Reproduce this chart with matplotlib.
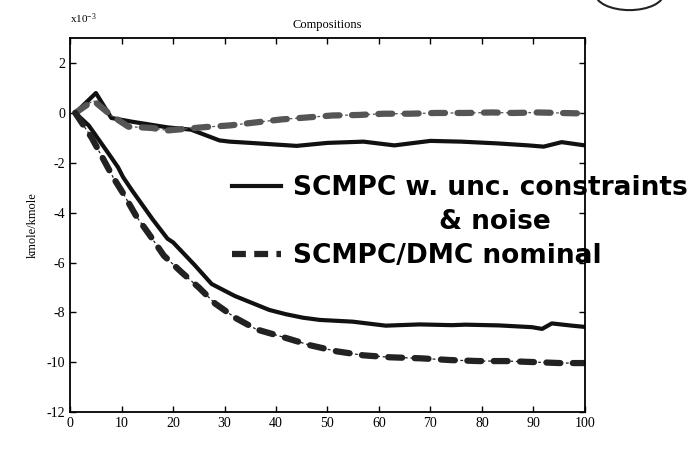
import numpy as np
import matplotlib.pyplot as plt
from matplotlib.lines import Line2D
from matplotlib.patches import Ellipse

t_top_noise = [1, 5, 8, 12, 19, 23.5, 29, 31, 35, 44, 50, 57, 63, 70, 76, 83, 89, 92, 95.5, 100]
y_top_noise = [0, 0.8, -0.2, -0.35, -0.58, -0.67, -1.1, -1.15, -1.2, -1.32, -1.2, -1.15,
               -1.3, -1.12, -1.15, -1.22, -1.3, -1.35, -1.17, -1.3]

t_top_nom = [1, 4.5, 8, 11.3, 15.8, 19, 26, 31, 36, 41, 46, 51, 56, 61, 66, 71, 77, 82, 86, 91, 95, 100]
y_top_nom = [0, 0.5, -0.1, -0.55, -0.6, -0.7, -0.57, -0.5, -0.38, -0.26, -0.18, -0.1,
             -0.08, -0.03, -0.03, 0.0, 0.0, 0.02, 0.0, 0.02, 0.0, -0.02]

t_bot_noise = [1, 3.6, 7.6, 9.3, 10.3, 12, 16, 18.9, 20, 24.1, 27.5, 32, 38.7, 41.9, 45.2,
               48.5, 54.9, 61.3, 67.9, 74.2, 76.8, 83.3, 89.7, 91.7, 93.6, 97.5, 100]
y_bot_noise = [0, -0.5, -1.67, -2.18, -2.58, -3.1, -4.26, -5.04, -5.19, -6.08, -6.86, -7.34,
               -7.9, -8.07, -8.21, -8.3, -8.37, -8.53, -8.48, -8.51, -8.49, -8.52, -8.59,
               -8.66, -8.44, -8.53, -8.58]

t_bot_nom = [1, 4.2, 6.3, 8.4, 10.4, 12.9, 15.6, 18.2, 21.6, 25, 28.2, 32.2, 36.2, 40.9,
             46.7, 51.8, 57, 62.3, 68.1, 73.9, 79.3, 84.8, 90, 95.2, 100]
y_bot_nom = [0, -1.0, -1.8, -2.6, -3.26, -4.16, -4.94, -5.72, -6.38, -7.0, -7.65, -8.23,
             -8.68, -8.96, -9.32, -9.56, -9.72, -9.8, -9.84, -9.91, -9.95, -9.95, -9.99,
             -10.03, -10.03]

xticks = np.arange(0, 101, 10)
yticks = np.arange(-12, 3, 2)

plt.rcParams['font.family'] = ['Liberation Serif', 'DejaVu Serif']
plt.rcParams['axes.unicode_minus'] = False
plt.rcParams['mathtext.default'] = 'regular'
plt.rcParams['lines.scale_dashes'] = False

fig = plt.figure(figsize=(6.88, 4.49), dpi=100)
ax = fig.add_axes([0.102, 0.082, 0.748, 0.833])

# solid: SCMPC with uncertainty, constraints and noise
l_noise, = ax.plot(t_top_noise, y_top_noise, color='#111111', lw=3,
                   label='SCMPC w. unc. constraints')
ax.plot(t_bot_noise, y_bot_noise, color='#111111', lw=3)

# nominal: thin dotted line under fat dashes, like the scanned dash-dot
for t, y, c in [(t_top_nom, y_top_nom, '#555555'), (t_bot_nom, y_bot_nom, '#222222')]:
    ax.plot(t, y, color=c, lw=0.9, linestyle=(0, (2, 2)))
    ax.plot(t, y, color=c, lw=4.5, linestyle=(0, (10, 9)), solid_capstyle='round',
            dash_capstyle='round')

ax.set_xlim(0, 100)
ax.set_ylim(-12, 3)
ax.set_xticks(xticks)
ax.set_yticks(yticks)
ax.tick_params(direction='in', top=True, right=True, length=4, labelsize=10, width=1)
for s in ax.spines.values():
    s.set_linewidth(1.3)
ax.set_title('Compositions', fontsize=9, pad=7)
ax.set_ylabel('kmole/kmole', fontsize=9, labelpad=6)
ax.text(0.0, 1.04, 'x10$^{-3}$', transform=ax.transAxes, fontsize=8)

# handwritten legend added on the printout
h_nom = Line2D([], [], color='#222222', lw=4.5, linestyle=(0, (10, 6)))
h_blank = Line2D([], [], color='none')
fig.legend([l_noise, h_blank, h_nom],
           ['SCMPC w. unc. constraints', '                & noise', 'SCMPC/DMC nominal'],
           loc='upper left', bbox_to_anchor=(0.337, 1 - 175 / 449), frameon=False,
           handlelength=1.85, handletextpad=0.45, labelspacing=0.3, borderpad=0,
           borderaxespad=0, prop={'family': 'DejaVu Sans', 'weight': 'bold', 'size': 19})

# hand-drawn circle cut at the top of the page
fig.add_artist(Ellipse((0.915, 1.015), 0.1, 0.075, transform=fig.transFigure,
                       fill=False, lw=1.5, color='#222222'))

fig.savefig('out.png', dpi=100)
